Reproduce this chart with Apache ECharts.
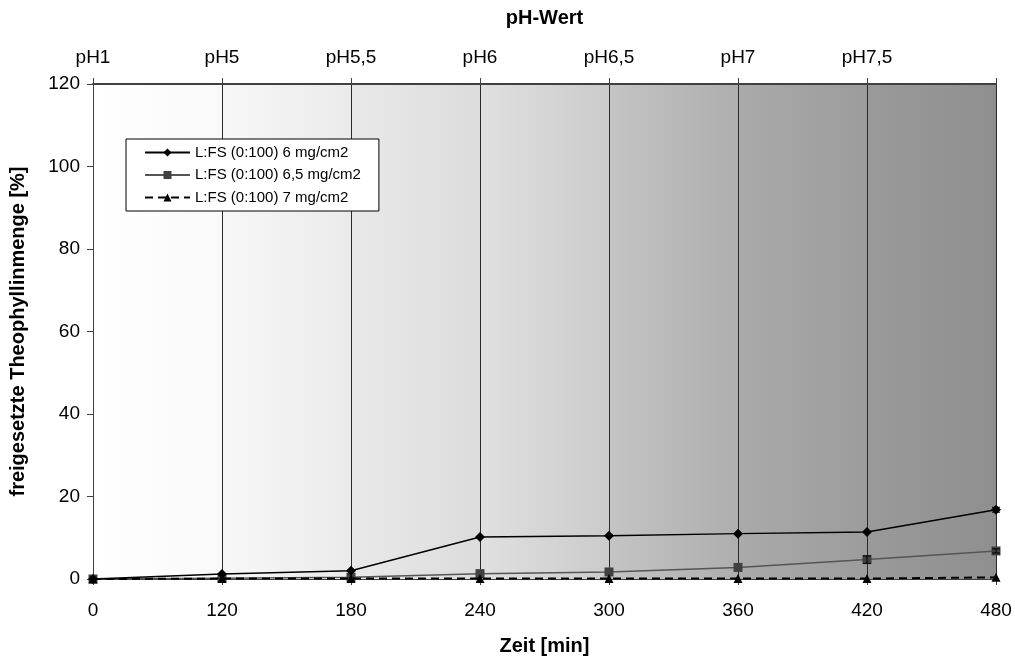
<!DOCTYPE html>
<html><head><meta charset="utf-8">
<script src="https://cdn.jsdelivr.net/npm/echarts@6/dist/echarts.min.js"></script>
<style>html,body{margin:0;padding:0;background:#fff}#c{width:1015px;height:661px}</style>
</head><body><div id="c"></div>
<script>
const categories = ['0','120','180','240','300','360','420','480'];
const phLabels = ['pH1','pH5','pH5,5','pH6','pH6,5','pH7','pH7,5',''];
const s6 = [0, 1.2, 2.0, 10.2, 10.5, 11.0, 11.4, 16.8];
const s65 = [0, 0.2, 0.4, 1.3, 1.7, 2.8, 4.7, 6.8];
const s7 = [0, 0.1, 0.1, 0.1, 0.1, 0.1, 0.1, 0.4];
const errs = [[7, 16.8, 0.6], [6, 4.7, 0.9], [7, 6.8, 0.5]];
const names = ['L:FS (0:100) 6 mg/cm2','L:FS (0:100) 6,5 mg/cm2','L:FS (0:100) 7 mg/cm2'];
const bandColors = [['#ffffff','#f9f9f9'],['#f7f7f7','#ebebeb'],['#e9e9e9','#dcdcdc'],['#e0e0e0','#cbcbcb'],['#c4c4c4','#aeaeae'],['#aaaaaa','#9c9c9c'],['#9a9a9a','#8f8f8f']];

const font = 'Liberation Sans, Arial, sans-serif';
const bands = [];
for (let i = 0; i < categories.length - 1; i++) {
  bands.push([{xAxis: categories[i], itemStyle: {color: {type:'linear',x:0,y:0,x2:1,y2:0,colorStops:[{offset:0,color:bandColors[i][0]},{offset:1,color:bandColors[i][1]}]}}},{xAxis: categories[i+1]}]);
}
const chart = echarts.init(document.getElementById('c'));
chart.setOption({
  animation: false,
  textStyle: {fontFamily: font},
  grid: {left: 93, right: 19, top: 84, bottom: 81},
  legend: {
    orient: 'vertical', left: 126, top: 139, itemWidth: 45, itemHeight: 10, itemGap: 7.5,
    backgroundColor: '#fff', borderColor: '#000', borderWidth: 1, padding: [6, 18, 6, 18],
    textStyle: {fontSize: 15, color: '#000', fontFamily: font},
    data: names
  },
  xAxis: [{
    type: 'category', data: categories, boundaryGap: false, position: 'bottom', z: 3,
    name: 'Zeit [min]', nameLocation: 'middle', nameGap: 57,
    nameTextStyle: {fontSize: 20, fontWeight: 'bold', color: '#000'},
    axisLine: {lineStyle: {color: '#404040', width: 1}},
    axisTick: {show: true, alignWithLabel: true, length: 6, lineStyle: {color: '#404040'}},
    axisLabel: {fontSize: 19, color: '#000', margin: 22},
    splitLine: {show: true, lineStyle: {color: '#2a2a2a', width: 1}}
  }, {
    type: 'category', data: phLabels, boundaryGap: false, position: 'top', z: 3,
    name: 'pH-Wert', nameLocation: 'middle', nameGap: 56,
    nameTextStyle: {fontSize: 20, fontWeight: 'bold', color: '#000'},
    axisLine: {lineStyle: {color: '#404040', width: 2}},
    axisTick: {show: true, length: 6, lineStyle: {color: '#404040'}},
    axisLabel: {fontSize: 19, color: '#000', margin: 17},
    splitLine: {show: false}
  }],
  yAxis: {
    type: 'value', min: 0, max: 120, interval: 20, z: 3,
    name: 'freigesetzte Theophyllinmenge [%]', nameLocation: 'middle', nameGap: 65,
    nameTextStyle: {fontSize: 20, fontWeight: 'bold', color: '#000'},
    axisLine: {show: true, lineStyle: {color: '#404040', width: 1}},
    axisTick: {show: true, length: 6, lineStyle: {color: '#404040'}},
    axisLabel: {fontSize: 19, color: '#000', margin: 13},
    splitLine: {show: false}
  },
  series: [{
    type: 'line', data: categories.map(() => null), z: 1, silent: true, symbol: 'none',
    markArea: {silent: true, data: bands}
  }, {
    name: names[0], type: 'line', data: s6, symbol: 'diamond', symbolSize: 10,
    lineStyle: {color: '#000', width: 1.5}, itemStyle: {color: '#000'}, z: 5
  }, {
    name: names[1], type: 'line', data: s65, symbol: 'rect', symbolSize: 9,
    lineStyle: {color: '#555', width: 1.5}, itemStyle: {color: '#404040'}, z: 4
  }, {
    name: names[2], type: 'line', data: s7, symbol: 'triangle', symbolSize: 9,
    lineStyle: {color: '#000', width: 2, type: [8, 5]}, itemStyle: {color: '#000'}, z: 6
  }, {
    type: 'custom', data: errs, z: 7, silent: true,
    renderItem: function (params, api) {
      const x = api.value(0), v = api.value(1), e = api.value(2);
      const hi = api.coord([x, v + e]), lo = api.coord([x, v - e]);
      const w = 4;
      return {type: 'group', children: [
        {type: 'line', shape: {x1: hi[0], y1: hi[1], x2: lo[0], y2: lo[1]}, style: {stroke: '#000', lineWidth: 1}},
        {type: 'line', shape: {x1: hi[0]-w, y1: hi[1], x2: hi[0]+w, y2: hi[1]}, style: {stroke: '#000', lineWidth: 1}},
        {type: 'line', shape: {x1: lo[0]-w, y1: lo[1], x2: lo[0]+w, y2: lo[1]}, style: {stroke: '#000', lineWidth: 1}}
      ]};
    }
  }]
});
</script></body></html>
